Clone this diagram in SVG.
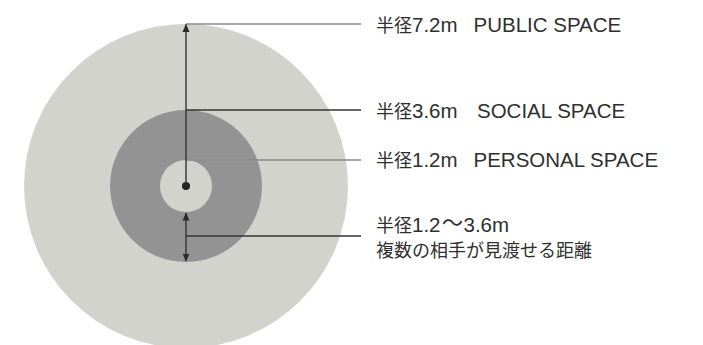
<svg xmlns="http://www.w3.org/2000/svg" width="703" height="345" viewBox="0 0 703 345">
<style>
.t{font-family:"Liberation Sans","Noto Sans CJK JP",sans-serif;fill:#2f2f2f;font-size:20.5px}
.j{font-family:"Noto Sans CJK JP",sans-serif;font-size:18px}
.w{font-family:"Noto Sans CJK JP",sans-serif;font-size:21px}
.ld{stroke:#333;stroke-width:1.4;fill:none}
.lg{stroke:#8a8a8a;stroke-width:1.4;fill:none}
</style>
<defs>
<marker id="ah" viewBox="0 0 8 8" refX="7.5" refY="4" markerWidth="8" markerHeight="8" markerUnits="userSpaceOnUse" orient="auto-start-reverse">
<path d="M0,0.5 L8,4 L0,7.5 Z" fill="#2a2a2a"/>
</marker>
</defs>
<g id="circles">
<circle id="public" cx="186" cy="186" r="162" fill="#d3d3ce"/>
<circle id="social" cx="186" cy="186" r="76" fill="#939393"/>
<circle id="personal" cx="186" cy="186" r="26" fill="#d3d3ce"/>
<circle id="center" cx="186" cy="186" r="4" fill="#222"/>
</g>
<g id="connectors">
<line class="lg" x1="186" y1="24" x2="361" y2="24"/>
<line class="ld" x1="186" y1="110" x2="361" y2="110"/>
<line class="lg" x1="186" y1="160" x2="361" y2="160"/>
<line class="ld" x1="186" y1="236" x2="361" y2="236"/>
<line class="ld" x1="186" y1="186" x2="186" y2="24.5" marker-end="url(#ah)"/>
<line class="ld" x1="186" y1="213" x2="186" y2="261" marker-start="url(#ah)" marker-end="url(#ah)"/>
</g>
<g id="label-public">
<text class="t" x="376" y="31.7"><tspan class="j">半径</tspan>7.2m<tspan x="473.5">PUBLIC SPACE</tspan></text>
</g>
<g id="label-social">
<text class="t" x="376" y="118.3"><tspan class="j">半径</tspan>3.6m<tspan x="477">SOCIAL SPACE</tspan></text>
</g>
<g id="label-personal">
<text class="t" x="376" y="166.7"><tspan class="j">半径</tspan>1.2m<tspan x="473.5">PERSONAL SPACE</tspan></text>
</g>
<g id="label-range">
<text class="t" x="376" y="231.7"><tspan class="j">半径</tspan>1.2<tspan class="w" x="442" y="230">〜</tspan><tspan x="463.5" y="231.7">3.6m</tspan></text>
<text class="t j" x="376" y="256.7">複数の相手が見渡せる距離</text>
</g>
</svg>
